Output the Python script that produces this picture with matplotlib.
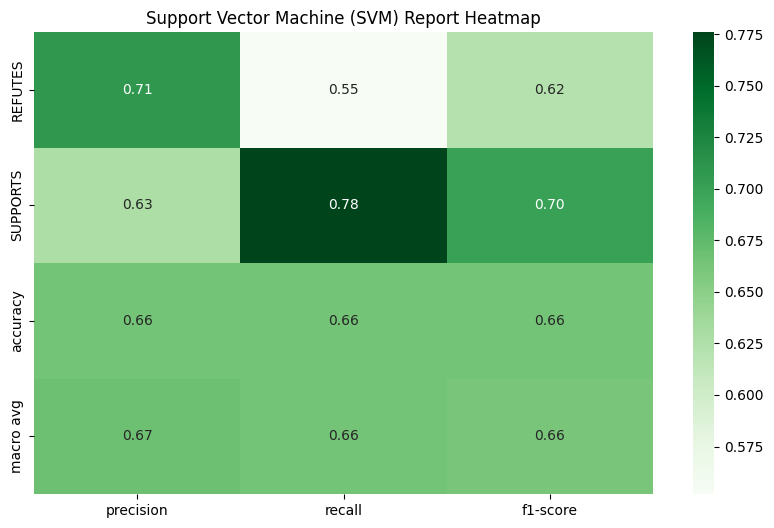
import matplotlib
matplotlib.use("Agg")
import matplotlib.pyplot as plt
import seaborn as sns
import pandas as pd
import numpy as np

rows = ["REFUTES", "SUPPORTS", "accuracy", "macro avg"]
cols = ["precision", "recall", "f1-score"]
refutes = [0.709, 0.552, 0.622]
supports = [0.628, 0.776, 0.700]
accuracy = [0.664, 0.664, 0.664]
macro = [0.668, 0.664, 0.661]

df = pd.DataFrame([refutes, supports, accuracy, macro], index=rows, columns=cols)

fig = plt.figure(figsize=(7.74, 5.28), dpi=100)
ax = fig.add_axes([34/774, 1-494/528, (653-34)/774, (494-32)/528])
cax = fig.add_axes([693/774, 1-494/528, 21/774, (494-32)/528])
sns.heatmap(df, annot=True, fmt=".2f", cmap="Greens", ax=ax, cbar_ax=cax)
ax.set_title("Support Vector Machine (SVM) Report Heatmap")
fig.savefig("out.png", dpi=100)
